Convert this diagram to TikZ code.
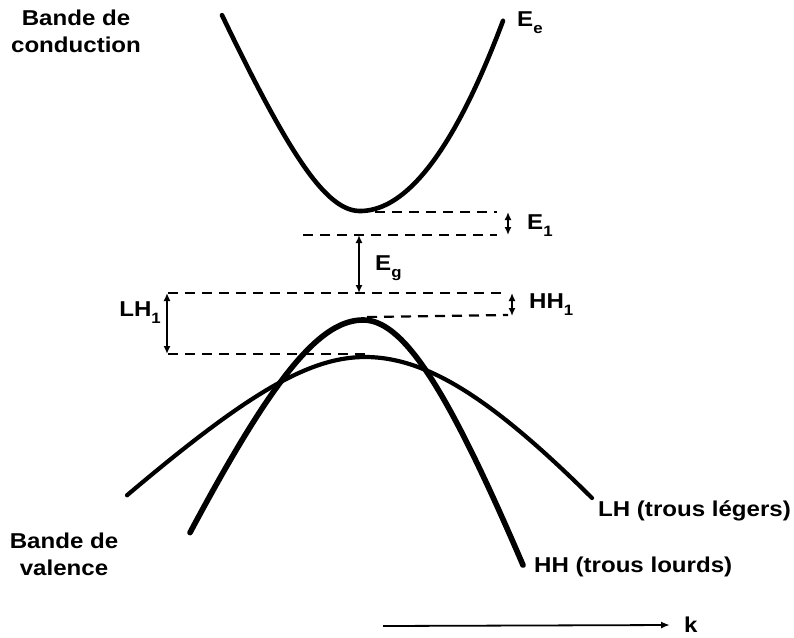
\documentclass[tikz,border=0pt]{standalone}
\usepackage{fontspec}
\setmainfont{Liberation Sans}[FakeStretch=1.12]
\usetikzlibrary{arrows.meta}
\newcommand{\mysub}[1]{\raisebox{-0.32em}{\fontsize{15}{15}\selectfont #1}}
\begin{document}
\begin{tikzpicture}[x=1pt,y=-1pt,
  band/.style={line width=4.6pt, line cap=round, line join=round},
  dashline/.style={line width=2.2pt, dash pattern=on 10pt off 7pt},
  dimarrow/.style={line width=1.7pt, {Latex[length=8pt,width=7pt]}-{Latex[length=8pt,width=7pt]}},
  lbl/.style={font=\fontsize{21.5}{27}\selectfont\bfseries, inner sep=0pt, align=center}]
\useasboundingbox (0,0) rectangle (794,637);
% conduction band
\draw[band] plot[domain=222:360, samples=60, smooth] (\x, {211-172*(sqrt(1+((360-\x)/73)^2)-1)})
  -- plot[domain=360:503, samples=60, smooth] (\x, {211-0.93*((\x-360)/10)^2});
% heavy holes
\draw[band, line width=5.6pt] plot[domain=190:363, samples=60, smooth] (\x, {320+236*(sqrt(1+((363-\x)/107)^2)-1)})
  -- plot[domain=363:523, samples=60, smooth] (\x, {320+268*(sqrt(1+((\x-363)/98)^2)-1)});
% light holes
\draw[band, line width=4.2pt] plot[domain=127:365, samples=60, smooth] (\x, {357+116*(sqrt(1+((365-\x)/122)^2)-1)})
  -- plot[domain=365:592, samples=60, smooth] (\x, {357+211*(sqrt(1+((\x-365)/170)^2)-1)});
% dashed levels
\coordinate (c1a) at (375,212); \coordinate (c1b) at (497,212);
\coordinate (c2a) at (303,235); \coordinate (c2b) at (497,235);
\coordinate (c3a) at (168,293); \coordinate (c3b) at (507,293);
\coordinate (c4a) at (367,317); \coordinate (c4b) at (508,315);
\coordinate (c5a) at (168,354); \coordinate (c5b) at (366,354);
\draw[dashline] (c1a) -- (c1b);
\draw[dashline] (c2a) -- (c2b);
\draw[dashline] (c3a) -- (c3b);
\draw[dashline] (c4a) -- (c4b);
\draw[dashline] (c5a) -- (c5b);
% dimension arrows
\coordinate (e1t) at (508,212); \coordinate (e1b) at (508,235);
\coordinate (egt) at (359,235); \coordinate (egb) at (359,293);
\coordinate (h1t) at (512,293); \coordinate (h1b) at (512,316);
\coordinate (l1t) at (167,293); \coordinate (l1b) at (167,354);
\draw[dimarrow] (e1t) -- (e1b);
\draw[dimarrow] (egt) -- (egb);
\draw[dimarrow] (h1t) -- (h1b);
\draw[dimarrow] (l1t) -- (l1b);
% k axis
\coordinate (ka) at (383,626);
\node[lbl, anchor=west] (k) at (684,625) {k};
\draw[line width=1.8pt, -{Latex[length=9pt,width=7pt]}] (ka) -- ([xshift=-14pt]k.west);
% labels
\node[lbl] (bc) at (76,31) {Bande de\\conduction};
\node[lbl] (bv) at (64,554) {Bande de\\valence};
\node[lbl, anchor=west] (ee) at (517,23) {E\mysub{e}};
\node[lbl, anchor=west] (e1) at (527,226) {E\mysub{1}};
\node[lbl, anchor=west] (eg) at (375,268) {E\mysub{g}};
\node[lbl, anchor=west] (hh1) at (529,305) {HH\mysub{1}};
\node[lbl, anchor=east] (lh1) at (161,313) {LH\mysub{1}};
\node[lbl, anchor=west] (lh) at (598,511) {LH (trous légers)};
\node[lbl, anchor=west] (hh) at (534,567) {HH (trous lourds)};
\end{tikzpicture}
\end{document}
